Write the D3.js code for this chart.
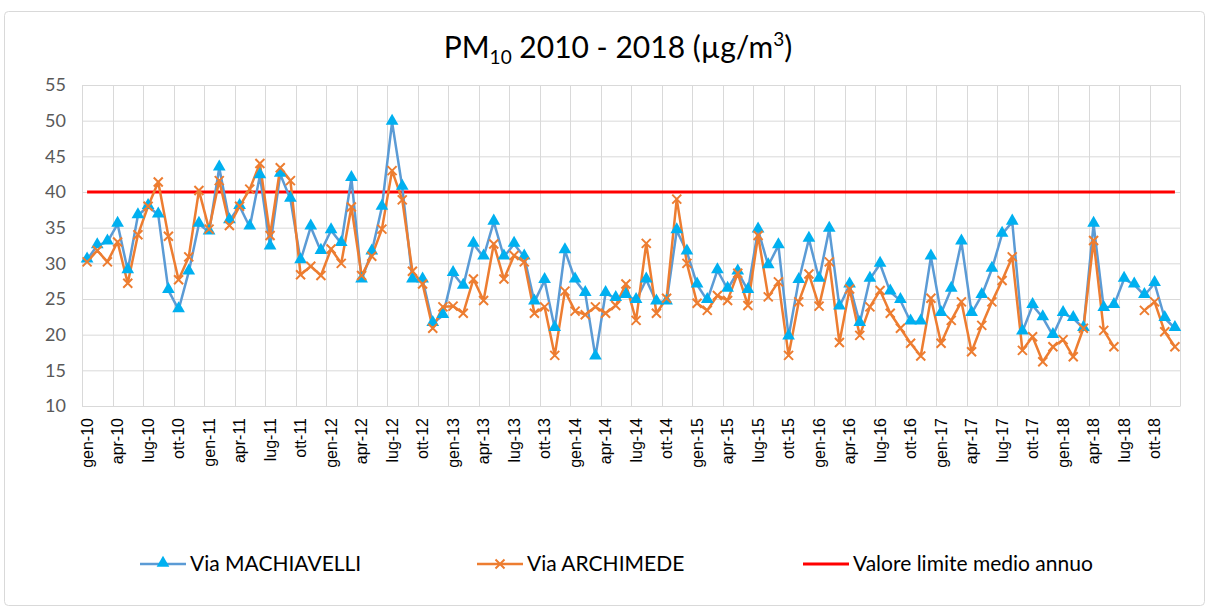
<!DOCTYPE html>
<html>
<head>
<meta charset="utf-8">
<script src="https://cdn.jsdelivr.net/npm/d3@7"></script>
<style>
  body { margin: 0; background: #fff; }
  text { font-family: Lato, "Open Sans", sans-serif; }
</style>
</head>
<body>
<div id="chart"></div>
<script>
var svgWidth = 1207;
var svgHeight = 610;

// Month labels (Italian) and years
var monthNames = ["gen", "feb", "mar", "apr", "mag", "giu", "lug", "ago", "set", "ott", "nov", "dic"];
var years = ["10", "11", "12", "13", "14", "15", "16", "17", "18"];
var categories = [];
years.forEach(function(y) {
  monthNames.forEach(function(m) { categories.push(m + "-" + y); });
});

// Y axis ticks
var yTicks = [10, 15, 20, 25, 30, 35, 40, 45, 50, 55];

// Monthly means, Via MACHIAVELLI
var machiavelli = [
  30.5, 32.5, 33, 35.5, 29, 36.7, 38, 36.8, 26.2, 23.5, 28.8, 35.5,
  34.4, 43.4, 36, 38, 35.1, 42.3, 32.3, 42.5, 39, 30.4, 35.1, 31.7,
  34.6, 32.8, 41.9, 27.7, 31.6, 37.9, 49.8, 40.7, 27.7, 27.7, 21.6, 22.7,
  28.6, 26.8, 32.7, 30.9, 35.8, 30.9, 32.7, 30.9, 24.6, 27.6, 20.9, 31.8,
  27.7, 25.8, 16.9, 25.8, 25.1, 25.5, 24.8, 27.7, 24.6, 24.6, 34.6, 31.6,
  27, 24.8, 29, 26.4, 28.8, 26.2, 34.7, 29.7, 32.5, 19.7, 27.6, 33.4,
  27.8, 34.8, 23.9, 27, 21.6, 27.8, 29.9, 26, 24.8, 21.8, 21.8, 30.9,
  23, 26.4, 33, 23, 25.5, 29.2, 34.1, 35.8, 20.4, 24.1, 22.4, 19.9,
  23, 22.3, 20.9, 35.5, 23.7, 24.1, 27.8, 27, 25.5, 27.2, 22.3, 20.9
];

// Monthly means, Via ARCHIMEDE (null = missing)
var archimede = [
  30.2, 31.8, 30.2, 33, 27.2, 34, 38, 41.4, 33.8, 27.7, 30.9, 40.2,
  34.8, 41.6, 35.3, 38, 40.4, 44, 33.9, 43.4, 41.6, 28.4, 29.6, 28.3,
  32, 30, 37.9, 28.3, 31, 34.8, 43, 38.9, 28.9, 27.1, 20.9, 23.9,
  24, 23, 27.8, 24.8, 32.7, 27.8, 31.1, 30.2, 23, 23.9, 17.1, 26.1,
  23.3, 22.8, 23.9, 23, 24.1, 27.1, 22, 32.8, 23, 25.1, 39, 30,
  24.4, 23.4, 25.5, 24.8, 28.6, 24.1, 33.9, 25.3, 27.4, 17.1, 24.6, 28.5,
  24, 30.2, 18.9, 26.4, 19.9, 23.9, 26.2, 23, 20.9, 18.8, 17, 25.1,
  18.8, 22, 24.6, 17.6, 21.3, 24.6, 27.6, 30.9, 17.8, 19.7, 16.2, 18.3,
  19.3, 16.9, 20.9, 33.2, 20.6, 18.3, null, null, 23.4, 24.6, 20.4, 18.3
];

// Annual mean limit value
var limitValue = categories.map(function() { return 40; });

var plot = {left: 82, right: 1180, top: 85, bottom: 406};

var svg = d3.select("#chart")
  .append("svg")
  .attr("width", svgWidth)
  .attr("height", svgHeight);

// Chart frame
svg.append("rect")
  .attr("x", 4.5)
  .attr("y", 11.5)
  .attr("width", 1200)
  .attr("height", 594)
  .attr("rx", 4)
  .attr("fill", "#fff")
  .attr("stroke", "#d9d9d9");

var xScale = d3.scaleBand()
  .domain(categories)
  .range([plot.left, plot.right])
  .padding(0);

var yScale = d3.scaleLinear()
  .domain([10, 55])
  .range([plot.bottom, plot.top]);

var xc = function(d, i) { return xScale(categories[i]) + xScale.bandwidth() / 2; };

// Horizontal gridlines
svg.append("g")
  .selectAll("line")
  .data(yTicks)
  .enter()
  .append("line")
  .attr("x1", plot.left)
  .attr("x2", plot.right)
  .attr("y1", d => yScale(d) + 0.5)
  .attr("y2", d => yScale(d) + 0.5)
  .attr("stroke", "#d9d9d9")
  .attr("stroke-width", 1);

// Vertical gridlines every 3 months
var vLines = categories.filter((c, i) => i % 3 === 0).map(c => xScale(c));
vLines.push(plot.right);
svg.append("g")
  .selectAll("line")
  .data(vLines)
  .enter()
  .append("line")
  .attr("x1", d => Math.round(d) + 0.5)
  .attr("x2", d => Math.round(d) + 0.5)
  .attr("y1", plot.top)
  .attr("y2", plot.bottom)
  .attr("stroke", "#d9d9d9")
  .attr("stroke-width", 1);

// Y axis labels
var leftAxis = d3.axisLeft(yScale).tickValues(yTicks).tickSize(0).tickPadding(16);
var yAxis = svg.append("g")
  .attr("transform", `translate(${plot.left}, 0)`)
  .call(leftAxis);
yAxis.select(".domain").remove();
yAxis.selectAll("text")
  .attr("fill", "#595959")
  .style("font-size", "18px")
  .style("font-family", "Lato, sans-serif");

// X axis labels
var bottomAxis = d3.axisBottom(xScale)
  .tickValues(categories.filter((c, i) => i % 3 === 0))
  .tickSize(0);
var xAxis = svg.append("g")
  .attr("transform", `translate(0, ${plot.bottom})`)
  .call(bottomAxis);
xAxis.select(".domain").attr("stroke", "#d9d9d9");
xAxis.selectAll("text")
  .attr("transform", "rotate(-90)")
  .attr("text-anchor", "end")
  .attr("x", -12)
  .attr("y", 0)
  .attr("dy", "0.35em")
  .attr("fill", "#000")
  .style("font-size", "16px")
  .style("font-family", "'Liberation Sans', Arial, sans-serif");

// Lines
var line = d3.line()
  .defined(d => d !== null)
  .x(xc)
  .y(d => yScale(d));

svg.append("path")
  .datum(limitValue)
  .attr("d", line)
  .attr("fill", "none")
  .attr("stroke", "#ff0000")
  .attr("stroke-width", 3);

svg.append("path")
  .datum(machiavelli)
  .attr("d", line)
  .attr("fill", "none")
  .attr("stroke", "#5b9bd5")
  .attr("stroke-width", 2.5)
  .attr("stroke-linejoin", "round");

svg.append("path")
  .datum(archimede)
  .attr("d", line)
  .attr("fill", "none")
  .attr("stroke", "#ed7d31")
  .attr("stroke-width", 2.5)
  .attr("stroke-linejoin", "round");

// Markers
var triangle = d3.symbol().type(d3.symbolTriangle).size(70);
var cross = "M-4.5,-4.5L4.5,4.5M-4.5,4.5L4.5,-4.5";

svg.append("g")
  .selectAll("path")
  .data(machiavelli)
  .enter()
  .append("path")
  .attr("d", triangle)
  .attr("transform", (d, i) => `translate(${xc(d, i)}, ${yScale(d) - 1})`)
  .attr("fill", "#00b0f0");

svg.append("g")
  .selectAll("path")
  .data(archimede.map((d, i) => ({v: d, i: i})).filter(d => d.v !== null))
  .enter()
  .append("path")
  .attr("d", cross)
  .attr("transform", d => `translate(${xc(d.v, d.i)}, ${yScale(d.v)})`)
  .attr("stroke", "#ed7d31")
  .attr("stroke-width", 2)
  .attr("fill", "none");

// Title
var title = svg.append("text")
  .attr("x", 618)
  .attr("y", 58)
  .attr("text-anchor", "middle")
  .attr("fill", "#000")
  .style("font-size", "30px");
title.append("tspan").text("PM");
title.append("tspan").text("10").attr("dy", 6).style("font-size", "19px");
title.append("tspan").text(" 2010 - 2018 (µg/m").attr("dy", -6);
title.append("tspan").text("3").attr("dy", -12).style("font-size", "19px");
title.append("tspan").text(")").attr("dy", 12);

// Legend
var legendY = 564;
var legendItems = [
  {label: "Via MACHIAVELLI", x: 140, color: "#5b9bd5", marker: "tri"},
  {label: "Via ARCHIMEDE", x: 477, color: "#ed7d31", marker: "x"},
  {label: "Valore limite medio annuo", x: 803, color: "#ff0000", marker: null}
];
legendItems.forEach(function(item) {
  var g = svg.append("g").attr("transform", `translate(${item.x}, ${legendY})`);
  g.append("line")
    .attr("x1", 0).attr("x2", 46)
    .attr("y1", 0).attr("y2", 0)
    .attr("stroke", item.color)
    .attr("stroke-width", item.marker ? 2.5 : 3);
  if (item.marker === "tri") {
    g.append("path").attr("d", triangle).attr("transform", "translate(23, -1)").attr("fill", "#00b0f0");
  } else if (item.marker === "x") {
    g.append("path").attr("d", cross).attr("transform", "translate(23, 0)")
      .attr("stroke", item.color).attr("stroke-width", 2);
  }
  g.append("text")
    .attr("x", 50)
    .attr("y", 0)
    .attr("dy", "0.35em")
    .attr("fill", "#000")
    .style("font-size", "21px")
    .text(item.label);
});
</script>
</body>
</html>
